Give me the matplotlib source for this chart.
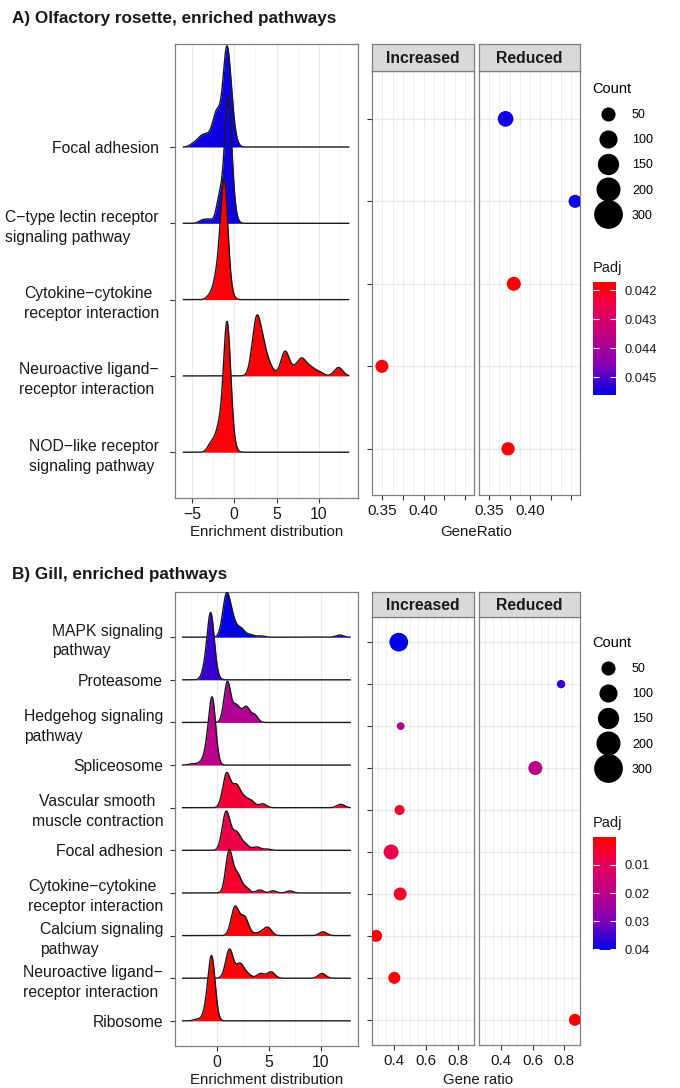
import numpy as np
import matplotlib
matplotlib.use("Agg")
import matplotlib.pyplot as plt
from matplotlib.colors import LinearSegmentedColormap, Normalize
from matplotlib.cm import ScalarMappable
from matplotlib.lines import Line2D

plt.rcParams["font.family"] = ["Liberation Sans", "DejaVu Sans"]

W, H = 680, 1088
INK = "#1a1a1a"

# Padj colour scale: low = red, high = blue
padj_cmap = LinearSegmentedColormap.from_list(
    "padj", ["#FF0000", "#E6005A", "#B80088", "#8000B8", "#0000E8"])

count_breaks = [50, 100, 150, 200, 300]

# ---------------- A) Olfactory rosette ----------------
a_names = ["Focal adhesion",
           "C−type lectin receptor\nsignaling pathway",
           "Cytokine−cytokine\nreceptor interaction",
           "Neuroactive ligand−\nreceptor interaction",
           "NOD−like receptor\nsignaling pathway"]
a_padj = [0.0455, 0.0455, 0.0418, 0.0418, 0.0418]
a_dir = ["Reduced", "Reduced", "Reduced", "Increased", "Reduced"]
a_ratio = [0.370, 0.455, 0.380, 0.3495, 0.373]
a_count = [86, 54, 65, 54, 57]
# enrichment values (binned) and their relative weights per pathway
a_enr_x = [[-0.9, -0.3, -2.0, -2.5, -3.3, -4.0, -4.8],
           [-0.75, -0.2, -1.7, -3.0, -3.8],
           [-1.2, -2.0, -2.8, -0.6],
           [2.6, 3.4, 4.2, 6.0, 7.2, 8.0, 9.0, 10.0, 12.3],
           [-0.86, -1.8, -2.7, -0.3]]
a_enr_w = [[1.2, 0.25, 0.38, 0.12, 0.12, 0.10, 0.04],
           [1.55, 0.2, 0.35, 0.05, 0.04],
           [1.5, 0.3, 0.06, 0.1],
           [0.7, 0.3, 0.1, 0.32, 0.08, 0.2, 0.1, 0.05, 0.11],
           [1.65, 0.3, 0.12, 0.1]]
a_bw = [0.45, 0.4, 0.42, 0.5, 0.42]
a_range = (-6.0, 13.5)
a_padj_lim = (0.04172, 0.04562)
a_padj_ticks = [0.042, 0.043, 0.044, 0.045]

# ---------------- B) Gill ----------------
b_names = ["MAPK signaling\npathway", "Proteasome",
           "Hedgehog signaling\npathway", "Spliceosome",
           "Vascular smooth\nmuscle contraction", "Focal adhesion",
           "Cytokine−cytokine\nreceptor interaction",
           "Calcium signaling\npathway",
           "Neuroactive ligand−\nreceptor interaction", "Ribosome"]
b_padj = [0.040, 0.036, 0.022, 0.020, 0.006, 0.008, 0.005, 0.001, 0.001, 0.0005]
b_dir = ["Increased", "Reduced", "Increased", "Reduced", "Increased",
         "Increased", "Increased", "Increased", "Increased", "Reduced"]
b_ratio = [0.428, 0.78, 0.44, 0.617, 0.433, 0.38, 0.437, 0.286, 0.40, 0.868]
b_count = [131, 11, 7, 65, 24, 77, 53, 43, 43, 43]
b_enr_x = [[0.9, 1.5, 2.3, 3.2, 4.2, 11.8],
           [-0.6, -1.1, -0.2],
           [1.0, 1.8, 2.3, 2.85, 3.6],
           [-0.45, -0.95, -1.6, -2.4],
           [0.9, 1.4, 1.9, 2.6, 3.3, 4.4, 11.9],
           [0.85, 1.4, 1.95, 2.7, 3.8, 4.8],
           [1.15, 1.7, 2.1, 2.8, 4.1, 5.4, 7.0],
           [1.7, 2.2, 2.7, 3.6, 4.3, 4.9, 10.2],
           [1.2, 2.2, 2.9, 4.2, 5.2, 10.1],
           [-0.5, -1.0, -1.9]]
b_enr_w = [[0.95, 0.35, 0.2, 0.06, 0.03, 0.05],
           [1.45, 0.25, 0.1],
           [0.95, 0.35, 0.15, 0.33, 0.18],
           [1.5, 0.3, 0.05, 0.03],
           [0.75, 0.15, 0.45, 0.2, 0.15, 0.09, 0.08],
           [0.85, 0.2, 0.35, 0.14, 0.08, 0.03],
           [0.95, 0.25, 0.3, 0.12, 0.07, 0.05, 0.05],
           [0.62, 0.15, 0.38, 0.04, 0.07, 0.18, 0.09],
           [0.68, 0.33, 0.1, 0.11, 0.15, 0.11],
           [1.45, 0.25, 0.04]]
b_bw = [0.36, 0.33, 0.32, 0.33, 0.36, 0.36, 0.32, 0.36, 0.36, 0.33]
b_range = (-3.3, 12.8)
b_padj_lim = (0.0001, 0.0402)
b_padj_ticks = [0.01, 0.02, 0.03, 0.04]


def px_axes(fig, l, t, r, b):
    return fig.add_axes([l / W, 1 - b / H, (r - l) / W, (b - t) / H])


def size_pt2(c):
    # dot area grows linearly with Count; px -> pt
    return (0.72 ** 2) * (44 + 2.34 * c)


def style_box(ax):
    for s in ax.spines.values():
        s.set_color("#7f7f7f")
        s.set_linewidth(0.9)
    ax.tick_params(colors="#333333", labelcolor=INK, length=3.5, width=0.8)
    ax.set_axisbelow(True)


def ridges(fig, box, names, ex, ew, bw, padj, norm, xr, xlim, ylim,
           majors, minors, pad, centered=()):
    ax = px_axes(fig, *box)
    style_box(ax)
    n = len(names)
    xs = np.linspace(xr[0], xr[1], 900)
    for i in range(n):
        base = n - i
        d = np.zeros_like(xs)
        for v, w in zip(ex[i], ew[i]):
            d += w * np.exp(-0.5 * ((xs - v) / bw[i]) ** 2)
        ax.fill_between(xs, base, base + d, color=padj_cmap(norm(padj[i])),
                        lw=0, zorder=2 + 2 * i)
        ax.plot(xs, base + d, color=INK, lw=1.0, zorder=3 + 2 * i)
    ax.set_xlim(*xlim)
    ax.set_ylim(*ylim)
    ax.set_xticks(majors)
    ax.set_xticks(minors, minor=True)
    ax.tick_params(axis="x", which="minor", length=0)
    ax.tick_params(axis="x", labelsize=11.3, pad=3)
    ax.grid(axis="x", which="major", color="#EBEBEB", lw=0.9)
    ax.grid(axis="x", which="minor", color="#F3F3F3", lw=0.6)
    ax.set_yticks(range(n, 0, -1))
    ax.set_yticklabels(names, fontsize=11.3)
    ax.tick_params(axis="y", pad=pad)
    for lbl in ax.get_yticklabels():
        lbl.set_multialignment("center" if lbl.get_text() in centered else "left")
        lbl.set_linespacing(1.4)
    ax.set_xlabel("Enrichment distribution", fontsize=10.8, color=INK, labelpad=2)
    return ax


def dots(fig, lefts, top, strip_top, bottom, dirs, ratio, count, padj, norm,
         xlim, ylim, ticks, ticklabels, gridx, xlabel, xlabel_xy):
    n = len(dirs)
    for k, panel in enumerate(["Increased", "Reduced"]):
        l, r = lefts[k]
        ax = px_axes(fig, l, top, r, bottom)
        style_box(ax)
        sel = [i for i in range(n) if dirs[i] == panel]
        ax.scatter([ratio[i] for i in sel], [n - i for i in sel],
                   s=[size_pt2(count[i]) for i in sel],
                   c=[padj_cmap(norm(padj[i])) for i in sel],
                   edgecolors="none", zorder=3)
        ax.set_xlim(*xlim)
        ax.set_ylim(*ylim)
        ax.set_xticks(ticks)
        ax.set_xticklabels(ticklabels)
        ax.set_xticks(gridx, minor=True)
        ax.tick_params(axis="x", which="minor", length=0)
        ax.tick_params(axis="x", labelsize=11, pad=3)
        ax.grid(axis="x", which="both", color="#EEEEEE", lw=0.7)
        ax.set_yticks(range(1, n + 1))
        ax.grid(axis="y", color="#EBEBEB", lw=0.9)
        ax.set_yticklabels([])
        if k == 1:
            ax.tick_params(axis="y", length=0)
        sax = px_axes(fig, l, strip_top, r, top)
        sax.set_facecolor("#D9D9D9")
        for s in sax.spines.values():
            s.set_color("#7f7f7f")
            s.set_linewidth(0.9)
        sax.set_xticks([])
        sax.set_yticks([])
        sax.text(0.5, 0.48, panel, ha="center", va="center", fontsize=11.3,
                 fontweight="bold", color=INK, transform=sax.transAxes)
    fig.text(xlabel_xy[0] / W, 1 - xlabel_xy[1] / H, xlabel, ha="center",
             va="center", fontsize=10.8, color=INK)


def legends(fig, count_top, padj_title_y, cbar_box, norm, ticks, fmt):
    handles = [Line2D([], [], ls="", marker="o", color="black",
                      markersize=np.sqrt(size_pt2(c))) for c in count_breaks]
    fig.legend(handles, [str(c) for c in count_breaks], title="Count",
               loc="upper left", bbox_to_anchor=(592 / W, 1 - count_top / H),
               frameon=False, fontsize=9, title_fontsize=10.5,
               handlelength=2.6, handletextpad=0.6, labelspacing=1.05,
               borderpad=0, borderaxespad=0, alignment="left")
    fig.text(593 / W, 1 - padj_title_y / H, "Padj", fontsize=10.5,
             va="center", color=INK)
    cax = px_axes(fig, *cbar_box)
    cb = fig.colorbar(ScalarMappable(norm=norm, cmap=padj_cmap), cax=cax)
    cb.outline.set_visible(False)
    cax.invert_yaxis()
    cb.set_ticks(ticks)
    cb.set_ticklabels([fmt.format(t) for t in ticks])
    cax.tick_params(direction="in", color="white", length=4, width=0.8,
                    left=True, right=True, labelcolor=INK, labelsize=9.3, pad=6)


fig = plt.figure(figsize=(W / 100, H / 100), dpi=100)
fig.patch.set_facecolor("white")

fig.text(12 / W, 1 - 18 / H, "A) Olfactory rosette, enriched pathways",
         fontsize=12.3, fontweight="bold", va="center", color=INK)
fig.text(12 / W, 1 - 575 / H, "B) Gill, enriched pathways",
         fontsize=12.3, fontweight="bold", va="center", color=INK)

# panel A
a_norm = Normalize(*a_padj_lim)
ridges(fig, (175, 44, 358, 498), a_names, a_enr_x, a_enr_w, a_bw, a_padj,
       a_norm, a_range, (-7.0, 14.6), (0.4, 6.35),
       [-5, 0, 5, 10], [-2.5, 2.5, 7.5, 12.5], pad=8)
dots(fig, [(372, 474), (479, 580)], 71, 44, 495, a_dir, a_ratio, a_count,
     a_padj, a_norm, (0.3435, 0.461), (0.44, 5.58),
     [0.35, 0.375, 0.40, 0.425, 0.45], ["0.35", "", "0.40", "", ""],
     np.arange(0.3375, 0.461, 0.0125), "GeneRatio", (476, 532))
legends(fig, 82, 268, (593, 282, 616, 395), a_norm, a_padj_ticks, "{:.3f}")

# panel B
b_norm = Normalize(*b_padj_lim)
ridges(fig, (175, 592, 358, 1046), b_names, b_enr_x, b_enr_w, b_bw, b_padj,
       b_norm, b_range, (-4.04, 13.56), (0.41, 11.06),
       [0, 5, 10], [-2.5, 2.5, 7.5, 12.5], pad=5,
       centered=("Vascular smooth\nmuscle contraction",))
dots(fig, [(372, 474), (479, 580)], 617, 592, 1045, b_dir, b_ratio, b_count,
     b_padj, b_norm, (0.26, 0.90), (0.4, 10.6),
     [0.4, 0.6, 0.8], ["0.4", "0.6", "0.8"],
     np.arange(0.30, 0.90, 0.05), "Gene ratio", (478, 1080))
legends(fig, 636, 823, (593, 837, 616, 950), b_norm, b_padj_ticks, "{:.2f}")

fig.savefig("out.png", dpi=100)
